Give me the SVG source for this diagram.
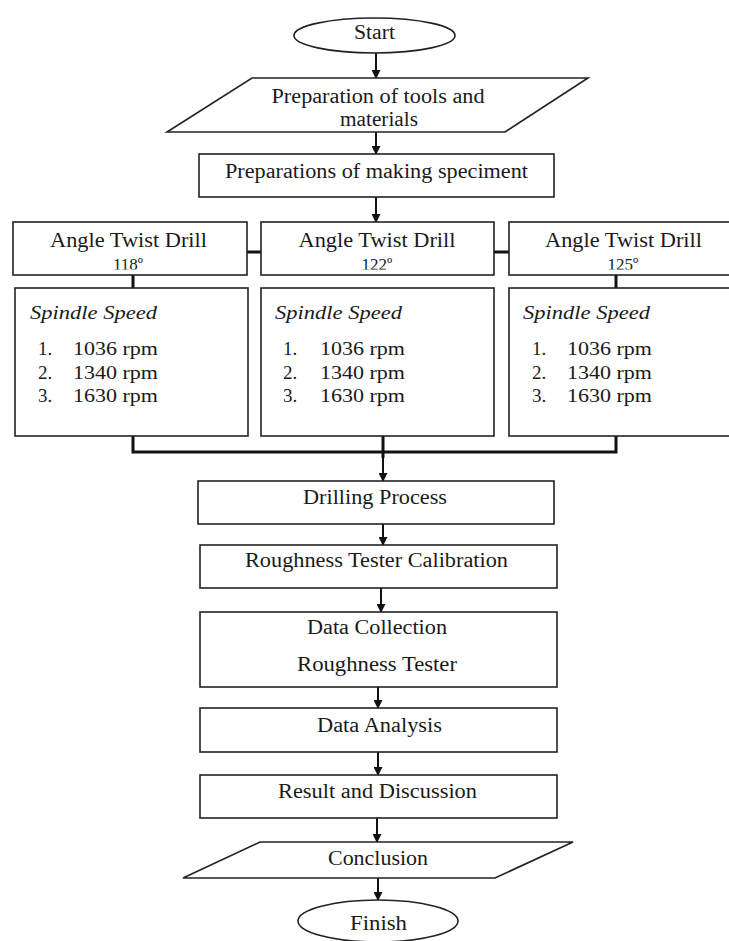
<svg xmlns="http://www.w3.org/2000/svg" width="729" height="941" viewBox="0 0 729 941">
<style>
.shape{fill:#fff;stroke:#222;stroke-width:1.6}
.t{font-family:"Liberation Serif","Times New Roman",serif;font-size:20px;fill:#1a1a1a;text-anchor:middle}
.l{font-family:"Liberation Serif","Times New Roman",serif;font-size:19px;fill:#1a1a1a}
.i{font-style:italic}
.deg{font-family:"Liberation Serif","Times New Roman",serif;font-size:17px;fill:#1a1a1a;text-anchor:middle}
.c{stroke:#111;stroke-width:2;fill:none}
.ct{stroke:#111;stroke-width:3;fill:none}
</style>
<defs>
<marker id="ah" markerWidth="9" markerHeight="9" refX="8" refY="4.5" orient="auto" markerUnits="userSpaceOnUse">
<path d="M0,0 L9,4.5 L0,9 Z" fill="#111"/>
</marker>
<clipPath id="c1"><rect x="13" y="222" width="234" height="47.5"/></clipPath>
<clipPath id="c2"><rect x="261" y="222" width="233" height="47.5"/></clipPath>
<clipPath id="c3"><rect x="509" y="222" width="229" height="47.5"/></clipPath>
</defs>
<rect width="729" height="941" fill="#fff"/>

<g id="connectors">
<line class="c" x1="376" y1="53" x2="376" y2="78" marker-end="url(#ah)"/>
<line class="c" x1="376" y1="132" x2="376" y2="154" marker-end="url(#ah)"/>
<line class="c" x1="376" y1="197" x2="376" y2="222" marker-end="url(#ah)"/>
<line class="ct" x1="247" y1="252" x2="261" y2="252"/>
<line class="ct" x1="494" y1="252" x2="509" y2="252"/>
<line class="ct" x1="133" y1="275" x2="133" y2="288"/>
<line class="ct" x1="616" y1="275" x2="616" y2="288"/>
<polyline class="ct" points="133,436 133,452 616,452 616,436"/>
<line class="ct" x1="383" y1="436" x2="383" y2="458"/>
<line class="c" x1="383" y1="456" x2="383" y2="481" marker-end="url(#ah)"/>
<line class="c" x1="383" y1="524" x2="383" y2="545" marker-end="url(#ah)"/>
<line class="c" x1="381" y1="588" x2="381" y2="612" marker-end="url(#ah)"/>
<line class="c" x1="378" y1="687" x2="378" y2="708" marker-end="url(#ah)"/>
<line class="c" x1="378" y1="752" x2="378" y2="775" marker-end="url(#ah)"/>
<line class="c" x1="377" y1="818" x2="377" y2="842" marker-end="url(#ah)"/>
<line class="c" x1="378" y1="878" x2="378" y2="900" marker-end="url(#ah)"/>
</g>

<g id="start">
<ellipse class="shape" cx="374.5" cy="35.5" rx="80.5" ry="17.5"/>
<text class="t" x="374.5" y="39" textLength="41" lengthAdjust="spacingAndGlyphs">Start</text>
</g>

<g id="prep-tools">
<polygon class="shape" points="252,78 588,78 505,132 167,132"/>
<text class="t" x="378" y="103" textLength="213" lengthAdjust="spacingAndGlyphs">Preparation of tools and</text>
<text class="t" x="379" y="126" textLength="78" lengthAdjust="spacingAndGlyphs">materials</text>
</g>

<g id="prep-specimen">
<rect class="shape" x="199" y="154" width="355" height="43"/>
<text class="t" x="376.5" y="178" textLength="303" lengthAdjust="spacingAndGlyphs">Preparations of making speciment</text>
</g>

<g id="drill-118">
<rect class="shape" x="13" y="222" width="234" height="53"/>
<text class="t" x="128.5" y="247" textLength="157" lengthAdjust="spacingAndGlyphs">Angle Twist Drill</text>
<text class="deg" x="128" y="270" clip-path="url(#c1)">118º</text>
</g>

<g id="drill-122">
<rect class="shape" x="261" y="222" width="233" height="53"/>
<text class="t" x="377" y="247" textLength="157" lengthAdjust="spacingAndGlyphs">Angle Twist Drill</text>
<text class="deg" x="377" y="270" clip-path="url(#c2)">122º</text>
</g>

<g id="drill-125">
<rect class="shape" x="509" y="222" width="229" height="53"/>
<text class="t" x="623.5" y="247" textLength="157" lengthAdjust="spacingAndGlyphs">Angle Twist Drill</text>
<text class="deg" x="623" y="270" clip-path="url(#c3)">125º</text>
</g>

<g id="speed-118">
<rect class="shape" x="15" y="288" width="233" height="148"/>
<text class="l i" x="30" y="319" textLength="127" lengthAdjust="spacingAndGlyphs">Spindle Speed</text>
<text class="l" x="38" y="355">1.</text><text class="l" x="73" y="355" textLength="85" lengthAdjust="spacingAndGlyphs">1036 rpm</text>
<text class="l" x="38" y="379">2.</text><text class="l" x="73" y="379" textLength="85" lengthAdjust="spacingAndGlyphs">1340 rpm</text>
<text class="l" x="38" y="402">3.</text><text class="l" x="73" y="402" textLength="85" lengthAdjust="spacingAndGlyphs">1630 rpm</text>
</g>

<g id="speed-122">
<rect class="shape" x="261" y="288" width="233" height="148"/>
<text class="l i" x="275" y="319" textLength="127" lengthAdjust="spacingAndGlyphs">Spindle Speed</text>
<text class="l" x="283" y="355">1.</text><text class="l" x="320" y="355" textLength="85" lengthAdjust="spacingAndGlyphs">1036 rpm</text>
<text class="l" x="283" y="379">2.</text><text class="l" x="320" y="379" textLength="85" lengthAdjust="spacingAndGlyphs">1340 rpm</text>
<text class="l" x="283" y="402">3.</text><text class="l" x="320" y="402" textLength="85" lengthAdjust="spacingAndGlyphs">1630 rpm</text>
</g>

<g id="speed-125">
<rect class="shape" x="509" y="288" width="229" height="148"/>
<text class="l i" x="523" y="319" textLength="127" lengthAdjust="spacingAndGlyphs">Spindle Speed</text>
<text class="l" x="532" y="355">1.</text><text class="l" x="567" y="355" textLength="85" lengthAdjust="spacingAndGlyphs">1036 rpm</text>
<text class="l" x="532" y="379">2.</text><text class="l" x="567" y="379" textLength="85" lengthAdjust="spacingAndGlyphs">1340 rpm</text>
<text class="l" x="532" y="402">3.</text><text class="l" x="567" y="402" textLength="85" lengthAdjust="spacingAndGlyphs">1630 rpm</text>
</g>

<g id="drilling">
<rect class="shape" x="198" y="481" width="356" height="43"/>
<text class="t" x="375" y="504" textLength="144" lengthAdjust="spacingAndGlyphs">Drilling Process</text>
</g>

<g id="calibration">
<rect class="shape" x="200" y="545" width="357" height="43"/>
<text class="t" x="376.5" y="567" textLength="263" lengthAdjust="spacingAndGlyphs">Roughness Tester Calibration</text>
</g>

<g id="data-collection">
<rect class="shape" x="200" y="612" width="357" height="75"/>
<text class="t" x="377" y="634" textLength="140" lengthAdjust="spacingAndGlyphs">Data Collection</text>
<text class="t" x="377" y="671" textLength="160" lengthAdjust="spacingAndGlyphs">Roughness Tester</text>
</g>

<g id="data-analysis">
<rect class="shape" x="200" y="708" width="357" height="44"/>
<text class="t" x="379.5" y="732" textLength="125" lengthAdjust="spacingAndGlyphs">Data Analysis</text>
</g>

<g id="result">
<rect class="shape" x="200" y="775" width="357" height="43"/>
<text class="t" x="377.5" y="798" textLength="199" lengthAdjust="spacingAndGlyphs">Result and Discussion</text>
</g>

<g id="conclusion">
<polygon class="shape" points="260,842 573,842 495,878 183,878"/>
<text class="t" x="378" y="865" textLength="100" lengthAdjust="spacingAndGlyphs">Conclusion</text>
</g>

<g id="finish">
<ellipse class="shape" cx="378" cy="921" rx="80" ry="21"/>
<text class="t" x="378.5" y="930" textLength="57" lengthAdjust="spacingAndGlyphs">Finish</text>
</g>
</svg>
